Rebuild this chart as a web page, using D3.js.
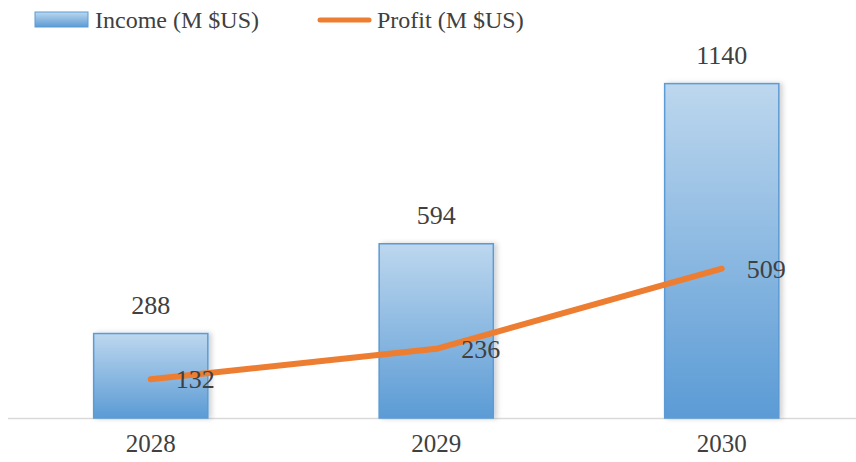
<!DOCTYPE html>
<html>
<head>
<meta charset="utf-8">
<script src="https://cdn.jsdelivr.net/npm/d3@7"></script>
<style>
  body { margin: 0; background: #fff; }
  text { font-family: "Liberation Serif", "Times New Roman", serif; fill: #404040; }
</style>
</head>
<body>
<svg width="856" height="462"></svg>
<script>
// chart values
const years = ["2028", "2029", "2030"];
const income = [288, 594, 1140];
const profit = [132, 236, 509];

const w = 856, h = 462;
const svg = d3.select("svg");

const x = d3.scaleBand()
  .domain(years)
  .range([8, 864.5])
  .paddingInner(0.6)
  .paddingOuter(0.3);

const y = d3.scaleLinear()
  .domain([0, 1200])
  .range([418, 66]);

/* gradient + soft shadow for the bars */
const defs = svg.append("defs");
const grad = defs.append("linearGradient")
  .attr("id", "barGrad")
  .attr("x1", 0).attr("y1", 0).attr("x2", 0).attr("y2", 1);
grad.append("stop").attr("offset", "0%").attr("stop-color", "#bdd7ee");
grad.append("stop").attr("offset", "100%").attr("stop-color", "#5b9bd5");

const shadow = defs.append("filter").attr("id", "shadow")
  .attr("x", "-10%").attr("y", "-10%").attr("width", "130%").attr("height", "120%");
shadow.append("feDropShadow")
  .attr("dx", 3).attr("dy", 0).attr("stdDeviation", 2.5)
  .attr("flood-color", "#000").attr("flood-opacity", 0.18);

// axis baseline
svg.append("line")
  .attr("x1", 8).attr("x2", 856)
  .attr("y1", y(0) + 0.5).attr("y2", y(0) + 0.5)
  .attr("stroke", "#d9d9d9").attr("stroke-width", 1.5);

// bars
svg.append("g").selectAll("rect")
  .data(income)
  .join("rect")
  .attr("x", (d, i) => x(years[i]))
  .attr("y", d => y(d))
  .attr("width", x.bandwidth())
  .attr("height", d => y(0) - y(d))
  .attr("fill", "url(#barGrad)")
  .attr("stroke", "#5b9bd5")
  .attr("stroke-width", 1.5)
  .attr("filter", "url(#shadow)");

// bar labels
svg.append("g").selectAll("text")
  .data(income)
  .join("text")
  .attr("x", (d, i) => x(years[i]) + x.bandwidth() / 2)
  .attr("y", d => y(d) - 20)
  .attr("text-anchor", "middle")
  .style("font-size", "26px")
  .text(d => d);

// profit line
const line = d3.line()
  .x((d, i) => x(years[i]) + x.bandwidth() / 2)
  .y(d => y(d));

svg.append("path")
  .datum(profit)
  .attr("d", line)
  .attr("fill", "none")
  .attr("stroke", "#ed7d31")
  .attr("stroke-width", 6)
  .attr("stroke-linecap", "round")
  .attr("stroke-linejoin", "round");

svg.append("g").selectAll("text")
  .data(profit)
  .join("text")
  .attr("x", (d, i) => x(years[i]) + x.bandwidth() / 2 + 25)
  .attr("y", d => y(d) + 9)
  .style("font-size", "26px")
  .text(d => d);

// x axis labels
svg.append("g").selectAll("text")
  .data(years)
  .join("text")
  .attr("x", d => x(d) + x.bandwidth() / 2)
  .attr("y", 452)
  .attr("text-anchor", "middle")
  .style("font-size", "25px")
  .text(d => d);

// legend
const lg = svg.append("g");
lg.append("rect")
  .attr("x", 35).attr("y", 12).attr("width", 53).attr("height", 15)
  .attr("fill", "url(#barGrad)").attr("stroke", "#5b9bd5");
lg.append("text").attr("x", 95).attr("y", 28)
  .style("font-size", "24px").text("Income (M $US)");
lg.append("line")
  .attr("x1", 320).attr("x2", 369).attr("y1", 20).attr("y2", 20)
  .attr("stroke", "#ed7d31").attr("stroke-width", 5).attr("stroke-linecap", "round");
lg.append("text").attr("x", 377).attr("y", 28)
  .style("font-size", "24px").text("Profit (M $US)");
</script>
</body>
</html>
